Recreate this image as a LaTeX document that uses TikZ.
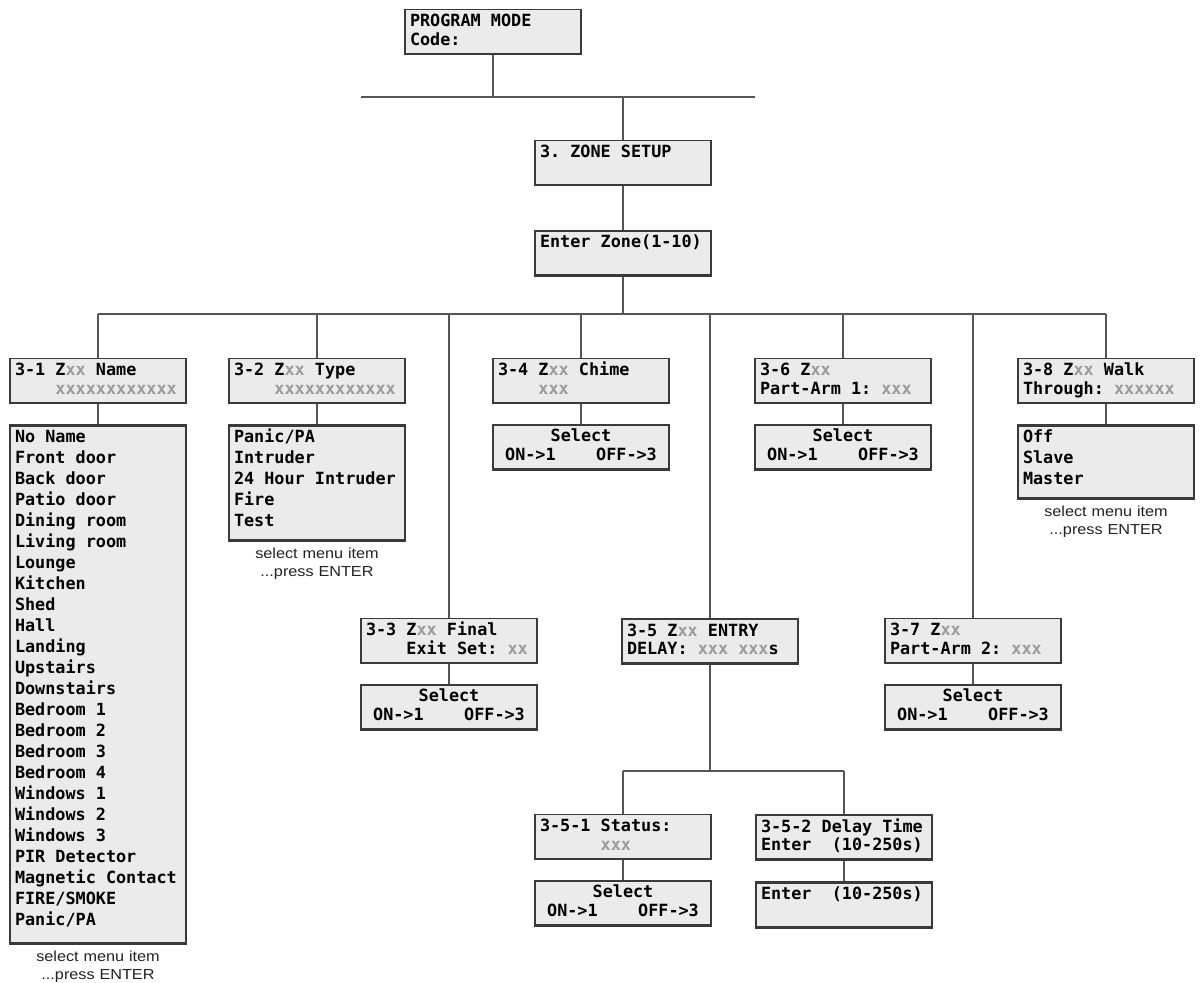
\documentclass[tikz,border=0pt]{standalone}
\usepackage{fontspec}
\usetikzlibrary{positioning}
\newfontfamily\lcdfont{DejaVu Sans Mono}
\newfontfamily\capfont[FakeStretch=1.12]{Liberation Sans}
\definecolor{boxfill}{HTML}{EBEBEB}
\definecolor{boxedge}{HTML}{3A3A3A}
\definecolor{wirecol}{HTML}{555555}
\definecolor{xgray}{HTML}{9B9B9B}
\definecolor{notecol}{HTML}{222222}
\newcommand{\gx}[1]{\textcolor{xgray}{#1}}
\tikzset{
  lcd/.style={draw=boxedge, fill=boxfill, line width=1.3pt,
    text width=166pt, inner xsep=5pt, inner ysep=5pt,
    text height=12pt, text depth=23pt, align=flush left,
    font=\lcdfont\bfseries\fontsize{16.8}{18.5}\selectfont\frenchspacing,
    anchor=north,
    path picture={\draw[boxedge, line width=4pt]
      (path picture bounding box.south west) --
      (path picture bounding box.south east);}},
  lcdthick/.style={lcd, line width=2.4pt},
  menu/.style={lcdthick, font=\lcdfont\bfseries\fontsize{16.8}{21}\selectfont},
  pick/.style={lcd, align=flush center},
  wire/.style={draw=wirecol, line width=1.6pt},
  note/.style={font=\capfont\fontsize{14.5}{18}\selectfont, text=notecol,
    text width=190pt, align=center, inner sep=0pt, text height=11pt}
}
\begin{document}
\begin{tikzpicture}[x=1pt, y=-1pt]
\useasboundingbox (0,0) rectangle (1201,982);

% top of the menu
\node[lcd] (prog) at (493,9) {PROGRAM MODE\\Code:};
\coordinate (topL) at (361,97);
\coordinate (topR) at (755,97);
\node[lcd] (zone) at (623,140) {3. ZONE SETUP};
\node[lcd,
    below=44pt of zone
] (zonenum) {Enter Zone(1-10)};
\coordinate (barY) at (0,314);

% zone menu items
\node[lcd] (z31) at (98,358) {3-1 Z\gx{xx} Name\\~~~~\gx{xxxxxxxxxxxx}};
\node[lcd] (z32) at (317,358) {3-2 Z\gx{xx} Type\\~~~~\gx{xxxxxxxxxxxx}};
\node[lcd] (z33) at (449,618) {3-3 Z\gx{xx} Final\\~~~~Exit Set: \gx{xx}};
\node[lcd] (z34) at (581,358) {3-4 Z\gx{xx} Chime\\~~~~\gx{xxx}};
\node[lcdthick] (z35) at (710,618) {3-5 Z\gx{xx} ENTRY\\DELAY: \gx{xxx xxx}s};
\node[lcd] (z36) at (843,358) {3-6 Z\gx{xx}\\Part-Arm 1: \gx{xxx}};
\node[lcd] (z37) at (973,618) {3-7 Z\gx{xx}\\Part-Arm 2: \gx{xxx}};
\node[lcd] (z38) at (1106,358) {3-8 Z\gx{xx} Walk\\Through: \gx{xxxxxx}};

% choices
\node[menu, text depth=496pt,
    below=20pt of z31
] (names) {No Name\\Front door\\Back door\\Patio door\\Dining room\\Living room\\Lounge\\Kitchen\\Shed\\Hall\\Landing\\Upstairs\\Downstairs\\Bedroom 1\\Bedroom 2\\Bedroom 3\\Bedroom 4\\Windows 1\\Windows 2\\Windows 3\\PIR Detector\\Magnetic Contact\\FIRE/SMOKE\\Panic/PA};
\node[menu, text depth=93pt,
    below=20pt of z32
] (types) {Panic/PA\\Intruder\\24 Hour Intruder\\Fire\\Test};
\node[pick, below=20pt of z33] (final) {Select\\ON->1~~~~OFF->3};
\node[pick, below=20pt of z34] (chime) {Select\\ON->1~~~~OFF->3};
\node[pick, below=20pt of z36] (arm1) {Select\\ON->1~~~~OFF->3};
\node[pick, below=20pt of z37] (arm2) {Select\\ON->1~~~~OFF->3};
\node[menu, text depth=51pt,
    below=20pt of z38
] (walk) {Off\\Slave\\Master};

% entry delay
\coordinate (subY) at (0,771);
\node[lcd] (z351) at (623,814) {3-5-1 Status:\\~~~~~~\gx{xxx}};
\node[lcdthick] (z352) at (844,814) {3-5-2 Delay Time\\Enter~~(10-250s)};
\node[pick, below=20pt of z351] (status) {Select\\ON->1~~~~OFF->3};
\node[lcdthick, below=20pt of z352] (delay) {Enter~~(10-250s)};

% notes
\node[note, below=6pt of names] (namesnote) {select menu item\\...press ENTER};
\node[note, below=6pt of types] (typesnote) {select menu item\\...press ENTER};
\node[note, below=6pt of walk] (walknote) {select menu item\\...press ENTER};

% Lines
\draw[wire] (topL) -- (topR)
    (prog) edge (prog |- topL)
    (zone |- topL) edge (zone)
    (zone) edge (zonenum)
    (zonenum) edge (zonenum |- barY)
    (z31 |- barY) edge (z38 |- barY)
    (z31 |- barY) edge (z31)
    (z32 |- barY) edge (z32)
    (z33 |- barY) edge (z33)
    (z34 |- barY) edge (z34)
    (z35 |- barY) edge (z35)
    (z36 |- barY) edge (z36)
    (z37 |- barY) edge (z37)
    (z38 |- barY) edge (z38)

    (z31) edge (names)
    (z32) edge (types)
    (z33) edge (final)
    (z34) edge (chime)
    (z36) edge (arm1)
    (z37) edge (arm2)
    (z38) edge (walk)

    (z35) edge (z35 |- subY)
    (z351 |- subY) edge (z352 |- subY)
    (z351 |- subY) edge (z351)
    (z352 |- subY) edge (z352)
    (z351) edge (status)
    (z352) edge (delay)
    ;
\end{tikzpicture}
\end{document}
